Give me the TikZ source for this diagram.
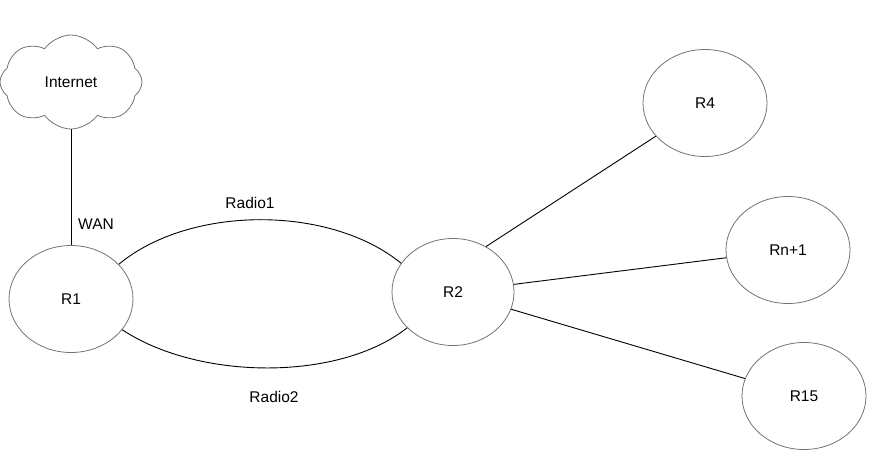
\documentclass[tikz,border=0pt]{standalone}
\usepackage{fontspec}
\setmainfont{Liberation Sans}
\usetikzlibrary{shapes.geometric,shapes.symbols}
\definecolor{edge-gray}{gray}{0.45}

\begin{document}
\begin{tikzpicture}[x=1pt,y=-1pt,
	router/.style={draw=edge-gray, line width=0.8pt, ellipse, minimum width=124pt, minimum height=107pt},
	link/.style={line width=0.9pt},
	lbl/.style={inner sep=0pt},
	every node/.style={font=\fontsize{15.5}{18}\selectfont}]
	\useasboundingbox (0,0) rectangle (869,472);

	\node (net) at (71,82) [draw=edge-gray, line width=0.8pt, cloud, cloud puffs=8, cloud puff arc=110, aspect=1.5, minimum width=142pt, minimum height=94pt, inner sep=0pt] {Internet};

	\node (R1) at (71,299) [router] {R1};
	\node (R2) at (453,292) [router, minimum width=122pt] {R2};
	\node (R4) at (705,103) [router] {R4};
	\node (Rn) at (788,250) [router] {Rn+1};
	\node (R15) at (804,396) [router] {R15};

	\node (wan) at (96,224) [lbl] {WAN};
	\node (radio1) at (250,203) [lbl] {Radio1};
	\node (radio2) at (274,397) [lbl] {Radio2};

	\draw[link] (net) -- (R1);
	\draw[link] (R1.36) .. controls (190,205) and (330,205) .. (R2.151);
	\draw[link] (R1.329) .. controls (200,381) and (340,381) .. (R2.218);

	\draw[link] (R2.54) -- (R4.214);
	\draw[link] (R2) -- (Rn);
	\draw[link] (R2) -- (R15);
\end{tikzpicture}
\end{document}
